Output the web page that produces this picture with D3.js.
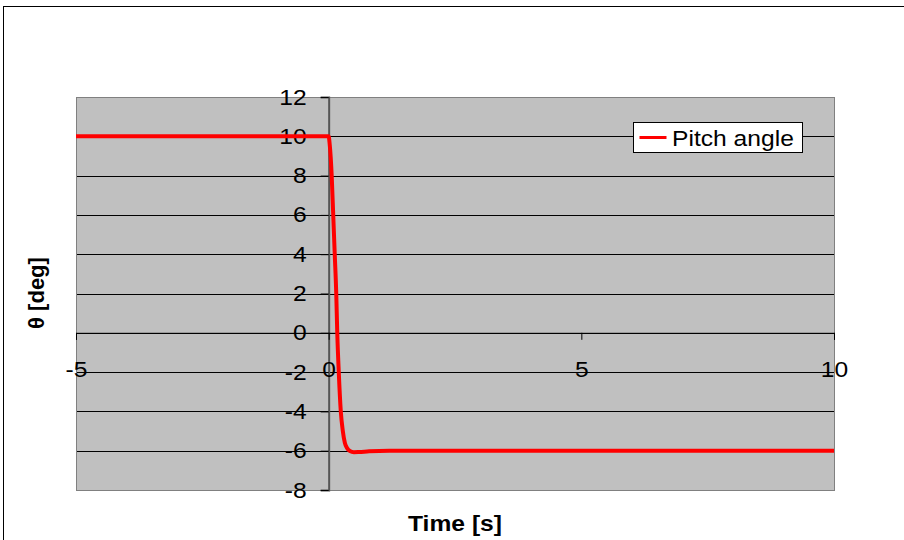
<!DOCTYPE html>
<html>
<head>
<meta charset="utf-8">
<script src="https://cdn.jsdelivr.net/npm/d3@7"></script>
<style>
  html, body { margin: 0; padding: 0; background: #fff; }
  svg { display: block; }
  text { font-family: Arial, "Liberation Sans", sans-serif; }
</style>
</head>
<body>
<svg id="chart" width="904" height="540"></svg>
<script>
// Pitch angle step response, time in seconds, angle in degrees
const time  = [-5, 0, 0.02, 0.06, 0.09, 0.12, 0.15, 0.17, 0.2, 0.24, 0.28, 0.32, 0.36, 0.42, 0.5, 0.6, 0.8, 1.2, 2, 10];
const pitch = [10, 10, 9.6, 8, 6, 4, 2, 0, -2, -4, -5, -5.6, -5.85, -6.02, -6.08, -6.07, -6.03, -6.0, -6.0, -6.0];

const xTicks = [-5, 0, 5, 10];
const yTicks = [-8, -6, -4, -2, 0, 2, 4, 6, 8, 10, 12];
const seriesName = "Pitch angle";

const svg = d3.select("#chart");
const plot = { left: 76, right: 834, top: 97, bottom: 490 };
const FONT = 22;
const WIDEN = 1.12; // horizontal widening of the label glyphs

const x = d3.scaleLinear().domain([-5, 10]).range([plot.left, plot.right]);
const y = d3.scaleLinear().domain([-8, 12]).range([plot.bottom, plot.top]);

// outer chart frame
svg.append("rect")
  .attr("x", 3.5).attr("y", 6.5).attr("width", 920).attr("height", 560)
  .attr("fill", "#fff").attr("stroke", "#000").attr("stroke-width", 1);

// plot area
svg.append("rect")
  .attr("x", plot.left).attr("y", plot.top)
  .attr("width", plot.right - plot.left).attr("height", plot.bottom - plot.top)
  .attr("fill", "#c0c0c0");

// horizontal gridlines
svg.append("g").selectAll("line").data(yTicks.filter(d => d !== -8 && d !== 12)).join("line")
  .attr("x1", plot.left).attr("x2", plot.right)
  .attr("y1", d => Math.round(y(d)) + 0.5).attr("y2", d => Math.round(y(d)) + 0.5)
  .attr("stroke", "#000").attr("stroke-width", 1);

// plot border
svg.append("rect")
  .attr("x", plot.left + 0.5).attr("y", plot.top + 0.5)
  .attr("width", plot.right - plot.left).attr("height", plot.bottom - plot.top)
  .attr("fill", "none").attr("stroke", "#808080").attr("stroke-width", 1);

const fmt = d => String(d); // plain hyphen-minus labels

// y axis crossing at t = 0
const yAxis = d3.axisLeft(y).tickValues(yTicks).tickSize(8).tickPadding(14).tickFormat(fmt);
const gy = svg.append("g").attr("transform", `translate(${x(0)},0)`).call(yAxis);
gy.select(".domain").attr("stroke", "#555").attr("stroke-width", 2);
gy.selectAll(".tick line").attr("stroke", "#000");
gy.selectAll(".tick text")
  .attr("font-size", FONT).attr("fill", "#000")
  .attr("font-family", "Arial, 'Liberation Sans', sans-serif")
  .attr("transform", `translate(-22,0) scale(${WIDEN},1)`)
  .attr("x", 0);

// x axis crossing at 0 deg
const xAxis = d3.axisBottom(x).tickValues(xTicks).tickSize(7).tickPadding(22).tickFormat(fmt);
const gx = svg.append("g").attr("transform", `translate(0,${y(0)})`).call(xAxis);
gx.select(".domain").attr("stroke", "#000").attr("stroke-width", 1);
gx.selectAll(".tick line").attr("stroke", "#000");
gx.selectAll(".tick text")
  .attr("font-size", FONT).attr("fill", "#000")
  .attr("font-family", "Arial, 'Liberation Sans', sans-serif")
  .attr("transform", `scale(${WIDEN},1)`);

// series line
const line = d3.line()
  .x((d, i) => x(time[i]))
  .y(d => y(d))
  .curve(d3.curveMonotoneX);

svg.append("path")
  .datum(pitch)
  .attr("d", line)
  .attr("fill", "none")
  .attr("stroke", "#ff0000")
  .attr("stroke-width", 4)
  .attr("stroke-linejoin", "round");

// legend
const lg = svg.append("g").attr("transform", "translate(633.5,122.5)");
lg.append("rect").attr("width", 169).attr("height", 30).attr("fill", "#fff").attr("stroke", "#000");
lg.append("line").attr("x1", 6).attr("x2", 33).attr("y1", 15).attr("y2", 15)
  .attr("stroke", "#ff0000").attr("stroke-width", 3);
lg.append("text")
  .attr("transform", `translate(38.5,23.5) scale(${WIDEN},1)`)
  .attr("font-size", FONT).text(seriesName);

// axis titles
svg.append("text")
  .attr("transform", `translate(455,531) scale(${WIDEN},1)`)
  .attr("text-anchor", "middle").attr("font-size", FONT).attr("font-weight", "bold")
  .text("Time [s]");

svg.append("text")
  .attr("transform", "translate(44,293) rotate(-90)")
  .attr("text-anchor", "middle").attr("font-size", FONT).attr("font-weight", "bold")
  .text("θ [deg]");
</script>
</body>
</html>
